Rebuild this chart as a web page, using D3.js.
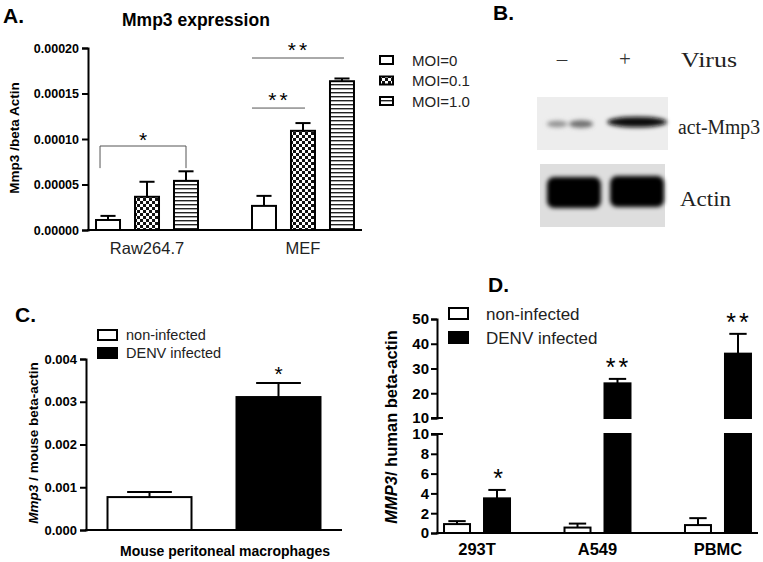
<!DOCTYPE html>
<html><head><meta charset="utf-8">
<script src="https://cdn.jsdelivr.net/npm/d3@7"></script>
<style>
html,body{margin:0;padding:0;background:#fff;}
svg{display:block;font-family:"Liberation Sans",Arial,sans-serif;}
</style></head>
<body>
<svg id="fig" width="763" height="562"></svg>
<script>
// ---------- DATA ----------
// Panel A
const aCategories = ["Raw264.7", "MEF"];
const aSeries = ["MOI=0", "MOI=0.1", "MOI=1.0"];
const aMeans = [[0.000011, 0.0000365, 0.000054], [0.0000265, 0.000109, 0.0001635]];
const aSem = [[0.0000045, 0.0000165, 0.0000105], [0.000011, 0.0000085, 0.000003]];
const aTicks = [0, 0.00005, 0.0001, 0.00015, 0.0002];
// Panel B (western blot lanes, relative band intensity)
const bLanes = ["\u2013", "+"];
const bMmp3Bands = [{lane: 0, pos: 0.22, w: 0.35, k: 0.25}, {lane: 0, pos: 0.62, w: 0.4, k: 0.45}, {lane: 1, pos: 0.5, w: 1.0, k: 0.95}];
const bActinBands = [{lane: 0, k: 1}, {lane: 1, k: 1}];
const bRowLabels = ["act-Mmp3", "Actin"];
// Panel C
const cSeries = ["non-infected", "DENV infected"];
const cMeans = [0.00077, 0.00311];
const cSem = [0.00012, 0.00033];
const cTicks = [0, 0.001, 0.002, 0.003, 0.004];
// Panel D
const dCategories = ["293T", "A549", "PBMC"];
const dSeries = ["non-infected", "DENV infected"];
const dMeans = [[0.9, 3.5], [0.55, 24], [0.8, 36]];
const dSem = [[0.3, 0.85], [0.4, 1.8], [0.7, 8]];
const dLowTicks = [0, 2, 4, 6, 8, 10];
const dHighTicks = [10, 20, 30, 40, 50];
const dStars = ["*", "**", "**"];

// ---------- SETUP ----------
const svg = d3.select("#fig");
const defs = svg.append("defs");
const chk = defs.append("pattern").attr("id", "chk").attr("patternUnits", "userSpaceOnUse").attr("width", 6).attr("height", 6);
chk.append("rect").attr("width", 6).attr("height", 6).attr("fill", "#fff");
chk.append("rect").attr("width", 3).attr("height", 3).attr("fill", "#111");
chk.append("rect").attr("x", 3).attr("y", 3).attr("width", 3).attr("height", 3).attr("fill", "#111");
const str = defs.append("pattern").attr("id", "str").attr("patternUnits", "userSpaceOnUse").attr("width", 4).attr("height", 4);
str.append("rect").attr("width", 4).attr("height", 4).attr("fill", "#fff");
str.append("rect").attr("y", 0).attr("width", 4).attr("height", 1.4).attr("fill", "#222");
const blur = defs.append("filter").attr("id", "blur").attr("x", "-30%").attr("y", "-60%").attr("width", "160%").attr("height", "220%");
blur.append("feGaussianBlur").attr("stdDeviation", 2.2);
const blur2 = defs.append("filter").attr("id", "blur2").attr("x", "-20%").attr("y", "-40%").attr("width", "140%").attr("height", "180%");
blur2.append("feGaussianBlur").attr("stdDeviation", 2);

const aFills = ["#fff", "url(#chk)", "url(#str)"];
const FONT = "Liberation Sans";

function styleAxis(g, fs, weight) {
  g.selectAll("path.domain").attr("stroke", "#000").attr("stroke-width", 2);
  g.selectAll(".tick line").attr("stroke", "#000").attr("stroke-width", 2);
  g.selectAll(".tick text").attr("font-family", FONT).attr("font-size", fs).attr("font-weight", weight).attr("fill", "#000");
}
function panelLabel(t, x, y) {
  svg.append("text").attr("x", x).attr("y", y).text(t).attr("font-size", 21).attr("font-weight", "bold").attr("fill", "#000");
}

// ---------- PANEL A ----------
{
  const y = d3.scaleLinear().domain([0, 0.0002]).range([230, 48]);
  const x0 = d3.scaleBand().domain(aCategories).range([88, 362]).paddingInner(1 / 3).paddingOuter(0.045);
  const x1 = d3.scaleBand().domain(aSeries).range([0, x0.bandwidth()]).paddingInner(1 / 3).paddingOuter(0);
  panelLabel("A.", 3, 23);
  svg.append("text").attr("x", 122).attr("y", 26).text("Mmp3 expression").attr("font-size", 17.5).attr("font-weight", "bold");
  svg.append("text").attr("transform", "translate(19,138) rotate(-90)").attr("text-anchor", "middle")
    .text("Mmp3 /beta Actin").attr("font-size", 13.5).attr("font-weight", "bold");
  const ga = svg.append("g").attr("transform", "translate(88,0)")
    .call(d3.axisLeft(y).tickValues(aTicks).tickFormat(d3.format(".5f")).tickSizeOuter(0).tickSize(6).tickPadding(3));
  styleAxis(ga, 12.5, "bold");
  svg.append("line").attr("x1", 87).attr("x2", 362).attr("y1", y(0)).attr("y2", y(0)).attr("stroke", "#000").attr("stroke-width", 2);
  aCategories.forEach((c, ci) => {
    const g = svg.append("g").attr("transform", `translate(${x0(c)},0)`);
    aSeries.forEach((s, si) => {
      const bx = x1(s), bw = x1.bandwidth(), m = aMeans[ci][si], e = m + aSem[ci][si];
      const cx = bx + bw / 2, cw = bw * 0.58;
      g.append("line").attr("x1", cx).attr("x2", cx).attr("y1", y(m)).attr("y2", y(e)).attr("stroke", "#000").attr("stroke-width", 2);
      g.append("line").attr("x1", cx - cw / 2).attr("x2", cx + cw / 2).attr("y1", y(e)).attr("y2", y(e)).attr("stroke", "#000").attr("stroke-width", 2);
      g.append("rect").attr("x", bx + 1).attr("y", y(m)).attr("width", bw - 2).attr("height", y(0) - y(m))
        .attr("fill", aFills[si]).attr("stroke", "#000").attr("stroke-width", 2);
    });
    svg.append("text").attr("x", x0(c) + x0.bandwidth() / 2).attr("y", 254).attr("text-anchor", "middle")
      .text(c).attr("font-size", 16.5).attr("fill", "#222");
  });
  // significance: Raw264.7 bracket
  const r = aCategories[0];
  const lx = x0(r) + x1(aSeries[0]) + 5, rx = x0(r) + x1(aSeries[2]) + x1.bandwidth() / 2;
  svg.append("path").attr("d", `M${lx},${y(0.000068)}V${y(0.0000923)}H${rx}V${y(0.000068)}`)
    .attr("fill", "none").attr("stroke", "#555").attr("stroke-width", 1);
  svg.append("text").attr("x", (lx + rx) / 2).attr("y", 147).attr("text-anchor", "middle").text("*").attr("font-size", 21);
  // MEF lines
  const m = aCategories[1];
  const mx0 = x0(m) + x1(aSeries[0]) + 1;
  [[aSeries[1], 0.000134], [aSeries[2], 0.000189]].forEach(([s, v]) => {
    const ex = x0(m) + x1(s) + x1.bandwidth() / 2 + 2;
    svg.append("line").attr("x1", mx0).attr("x2", ex).attr("y1", y(v)).attr("y2", y(v)).attr("stroke", "#555").attr("stroke-width", 1);
    svg.append("text").attr("x", (mx0 + ex) / 2 + 1).attr("y", y(v) - 1).attr("text-anchor", "middle").attr("letter-spacing", 3)
      .text("**").attr("font-size", 21);
  });
  // legend
  const lg = svg.append("g").attr("transform", "translate(379,0)");
  aSeries.forEach((s, i) => {
    const cy = 60 + i * 20.5;
    lg.append("rect").attr("x", 1).attr("y", cy - 4).attr("width", 13).attr("height", 8).attr("fill", aFills[i]).attr("stroke", "#000").attr("stroke-width", 2);
    lg.append("text").attr("x", 33).attr("y", cy + 5.5).text(s).attr("font-size", 15).attr("fill", "#222");
  });
}

// ---------- PANEL B ----------
{
  panelLabel("B.", 493, 20);
  const lx = d3.scaleBand().domain(d3.range(bLanes.length)).range([544, 667]).paddingInner(0.05);
  bLanes.forEach((l, i) => {
    svg.append("text").attr("x", lx(i) + lx.bandwidth() / 2 - 12).attr("y", 66).attr("text-anchor", "middle")
      .text(l).attr("font-family", "Liberation Serif").attr("font-size", 21).attr("fill", "#333");
  });
  const serif = (t, x, yb, len) => svg.append("text").attr("x", x).attr("y", yb).text(t).attr("font-family", "Liberation Serif")
    .attr("font-size", 20).attr("textLength", len).attr("lengthAdjust", "spacingAndGlyphs").attr("fill", "#222");
  serif("Virus", 681, 67, 56);
  // blot 1
  svg.append("rect").attr("x", 537).attr("y", 97).attr("width", 131).attr("height", 53).attr("fill", "#ededed");
  svg.append("g").attr("filter", "url(#blur)").selectAll("ellipse").data(bMmp3Bands).join("ellipse")
    .attr("cx", d => lx(d.lane) + lx.bandwidth() * d.pos)
    .attr("cy", d => d.lane === 0 ? 124 : 122)
    .attr("rx", d => lx.bandwidth() * d.w / 2)
    .attr("ry", d => 2.5 + 3 * d.k)
    .attr("fill", d => d3.interpolateGreys(0.35 + 0.65 * d.k));
  // blot 2
  svg.append("rect").attr("x", 540).attr("y", 164).attr("width", 125).attr("height", 63).attr("fill", "#dedede");
  svg.append("g").attr("filter", "url(#blur2)").selectAll("rect").data(bActinBands).join("rect")
    .attr("x", d => lx(d.lane) + 3).attr("y", d => 177 - d.lane)
    .attr("width", lx.bandwidth() - 6).attr("height", 31).attr("rx", 7)
    .attr("fill", d => d3.interpolateGreys(d.k));
  serif(bRowLabels[0], 678, 134, 82);
  serif(bRowLabels[1], 680, 206, 51);
}

// ---------- PANEL C ----------
{
  panelLabel("C.", 15, 322);
  const y = d3.scaleLinear().domain([0, 0.004]).range([530, 359]);
  const x = d3.scaleBand().domain(cSeries).range([86, 342]).paddingInner(1 / 3).paddingOuter(0.159);
  const ga = svg.append("g").attr("transform", "translate(86,0)")
    .call(d3.axisLeft(y).tickValues(cTicks).tickFormat(d3.format(".3f")).tickSizeOuter(0).tickSize(6).tickPadding(3));
  styleAxis(ga, 13, "bold");
  svg.append("line").attr("x1", 85).attr("x2", 342).attr("y1", 530).attr("y2", 530).attr("stroke", "#000").attr("stroke-width", 2);
  const fills = ["#fff", "#000"];
  cSeries.forEach((s, i) => {
    const bx = x(s), bw = x.bandwidth(), m = cMeans[i], e = m + cSem[i], cx = bx + bw / 2, cw = bw * 0.52;
    svg.append("line").attr("x1", cx).attr("x2", cx).attr("y1", y(m)).attr("y2", y(e)).attr("stroke", "#000").attr("stroke-width", 2);
    svg.append("line").attr("x1", cx - cw / 2).attr("x2", cx + cw / 2).attr("y1", y(e)).attr("y2", y(e)).attr("stroke", "#000").attr("stroke-width", 2);
    svg.append("rect").attr("x", bx + 1).attr("y", y(m)).attr("width", bw - 2).attr("height", y(0) - y(m))
      .attr("fill", fills[i]).attr("stroke", "#000").attr("stroke-width", 2);
  });
  const x2 = x(cSeries[1]) + x.bandwidth() / 2;
  svg.append("text").attr("x", x2).attr("y", 381).attr("text-anchor", "middle").text("*").attr("font-size", 21);
  svg.append("text").attr("x", 225).attr("y", 556).attr("text-anchor", "middle").text("Mouse peritoneal macrophages")
    .attr("font-size", 14).attr("font-weight", "bold");
  const yl = svg.append("text").attr("transform", "translate(38,443) rotate(-90)").attr("text-anchor", "middle")
    .attr("font-size", 13.5).attr("font-weight", "bold");
  yl.append("tspan").attr("font-style", "italic").text("Mmp3");
  yl.append("tspan").text(" / mouse beta-actin");
  cSeries.forEach((s, i) => {
    const by = 330 + i * 18;
    svg.append("rect").attr("x", 98).attr("y", by).attr("width", 19).attr("height", 10).attr("fill", fills[i]).attr("stroke", "#000").attr("stroke-width", 2);
    svg.append("text").attr("x", 126).attr("y", by + 10).text(s).attr("font-size", 14.5).attr("fill", "#222");
  });
}

// ---------- PANEL D ----------
{
  panelLabel("D.", 488, 292);
  const AX = 437;
  const yLow = d3.scaleLinear().domain([0, 10]).range([533, 434]);
  const yHigh = d3.scaleLinear().domain([10, 50]).range([418, 319]);
  const x0 = d3.scaleBand().domain(dCategories).range([AX, 758]).paddingInner(0.4357).paddingOuter(0.05);
  const x1 = d3.scaleBand().domain(dSeries).range([0, x0.bandwidth()]).paddingInner(0.3).paddingOuter(0);
  const g1 = svg.append("g").attr("transform", `translate(${AX},0)`)
    .call(d3.axisLeft(yLow).tickValues(dLowTicks).tickSizeOuter(0).tickSize(6).tickPadding(2));
  styleAxis(g1, 15, "bold");
  const g2 = svg.append("g").attr("transform", `translate(${AX},0)`)
    .call(d3.axisLeft(yHigh).tickValues(dHighTicks).tickSizeOuter(0).tickSize(6).tickPadding(2));
  styleAxis(g2, 15, "bold");
  // break markers
  [yLow(10), yHigh(10)].forEach(v => svg.append("line").attr("x1", AX - 6).attr("x2", AX + 6).attr("y1", v).attr("y2", v).attr("stroke", "#000").attr("stroke-width", 2));
  svg.append("line").attr("x1", AX - 1).attr("x2", 758).attr("y1", 533).attr("y2", 533).attr("stroke", "#000").attr("stroke-width", 2);
  const fills = ["#fff", "#000"];
  const yv = v => v <= 10 ? yLow(v) : yHigh(v);
  dCategories.forEach((c, ci) => {
    dSeries.forEach((s, si) => {
      const bx = x0(c) + x1(s), bw = x1.bandwidth(), m = dMeans[ci][si], e = m + dSem[ci][si];
      const cx = bx + bw / 2, cw = bw * 0.62;
      svg.append("line").attr("x1", cx).attr("x2", cx).attr("y1", yv(m)).attr("y2", yv(e)).attr("stroke", "#000").attr("stroke-width", 2);
      svg.append("line").attr("x1", cx - cw / 2).attr("x2", cx + cw / 2).attr("y1", yv(e)).attr("y2", yv(e)).attr("stroke", "#000").attr("stroke-width", 2);
      const lowTop = yLow(Math.min(m, 10));
      svg.append("rect").attr("x", bx + 1).attr("y", lowTop).attr("width", bw - 2).attr("height", yLow(0) - lowTop)
        .attr("fill", fills[si]).attr("stroke", "#000").attr("stroke-width", 2);
      if (m > 10) {
        svg.append("rect").attr("x", bx + 1).attr("y", yHigh(m)).attr("width", bw - 2).attr("height", yHigh(10) - yHigh(m))
          .attr("fill", fills[si]).attr("stroke", "#000").attr("stroke-width", 2);
      }
      if (si === 1) {
        svg.append("text").attr("x", cx + 1).attr("y", yv(e) - 3).attr("text-anchor", "middle").attr("letter-spacing", dStars[ci].length > 1 ? 3 : 0)
          .text(dStars[ci]).attr("font-size", 25);
      }
    });
    svg.append("text").attr("x", x0(c) + x0.bandwidth() / 2).attr("y", 555).attr("text-anchor", "middle")
      .text(c).attr("font-size", 16.5).attr("font-weight", "bold");
  });
  const yl = svg.append("text").attr("transform", "translate(397,427) rotate(-90)").attr("text-anchor", "middle")
    .attr("font-size", 16.5).attr("font-weight", "bold");
  yl.append("tspan").attr("font-style", "italic").text("MMP3");
  yl.append("tspan").text("/ human beta-actin");
  dSeries.forEach((s, i) => {
    const by = 308 + i * 24;
    svg.append("rect").attr("x", 449).attr("y", by).attr("width", 19).attr("height", 11).attr("fill", fills[i]).attr("stroke", "#000").attr("stroke-width", 2);
    svg.append("text").attr("x", 486).attr("y", by + 12).text(s).attr("font-size", 17).attr("fill", "#222");
  });
}
</script>
</body></html>
